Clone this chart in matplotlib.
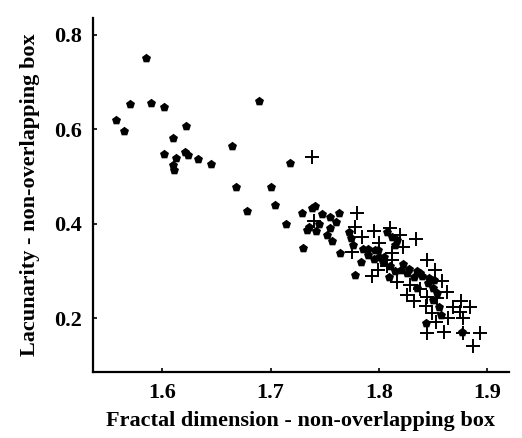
import matplotlib
matplotlib.use("Agg")
import matplotlib.pyplot as plt

# filled markers (first group)
dot_x = [1.585, 1.570, 1.590, 1.602, 1.557, 1.565, 1.622, 1.610, 1.689, 1.602,
         1.613, 1.610, 1.611, 1.621, 1.624, 1.633, 1.645, 1.664, 1.718, 1.668,
         1.700, 1.678, 1.704, 1.714, 1.729, 1.738, 1.741, 1.747, 1.763, 1.735,
         1.734, 1.730, 1.755, 1.752, 1.757, 1.772, 1.774, 1.764, 1.783, 1.778,
         1.785, 1.790, 1.796, 1.799, 1.807, 1.817, 1.815, 1.804, 1.809, 1.820,
         1.826, 1.832, 1.838, 1.846, 1.851, 1.835, 1.854, 1.857, 1.877, 1.843,
         1.790, 1.795, 1.800, 1.805, 1.810, 1.815, 1.822, 1.828, 1.835, 1.840,
         1.845, 1.850, 1.850, 1.855, 1.760, 1.755, 1.745, 1.742, 1.776, 1.812]
dot_y = [0.751, 0.653, 0.657, 0.648, 0.620, 0.597, 0.608, 0.583, 0.661, 0.548,
         0.540, 0.525, 0.514, 0.553, 0.546, 0.537, 0.527, 0.565, 0.528, 0.479,
         0.479, 0.428, 0.440, 0.400, 0.423, 0.433, 0.437, 0.421, 0.424, 0.394,
         0.387, 0.350, 0.391, 0.377, 0.363, 0.384, 0.370, 0.338, 0.320, 0.292,
         0.347, 0.347, 0.345, 0.345, 0.384, 0.366, 0.356, 0.320, 0.288, 0.303,
         0.296, 0.288, 0.296, 0.285, 0.281, 0.264, 0.253, 0.207, 0.172, 0.190,
         0.335, 0.325, 0.330, 0.330, 0.310, 0.300, 0.315, 0.305, 0.300, 0.290,
         0.275, 0.265, 0.240, 0.225, 0.405, 0.415, 0.400, 0.385, 0.355, 0.372]

# plus markers (second group)
plus_x = [1.738, 1.780, 1.740, 1.778, 1.784, 1.795, 1.810, 1.819, 1.834, 1.775,
          1.794, 1.799, 1.807, 1.812, 1.817, 1.829, 1.844, 1.852, 1.832, 1.843,
          1.854, 1.863, 1.876, 1.884, 1.878, 1.849, 1.853, 1.860, 1.844, 1.878,
          1.893, 1.887, 1.844, 1.875, 1.864, 1.812, 1.822, 1.800, 1.838, 1.858,
          1.868, 1.826]
plus_y = [0.541, 0.424, 0.407, 0.394, 0.373, 0.386, 0.391, 0.377, 0.368, 0.341,
          0.289, 0.303, 0.310, 0.324, 0.278, 0.271, 0.324, 0.303, 0.236, 0.227,
          0.243, 0.257, 0.236, 0.224, 0.202, 0.211, 0.193, 0.172, 0.169, 0.169,
          0.170, 0.142, 0.246, 0.214, 0.200, 0.338, 0.352, 0.360, 0.262, 0.280,
          0.225, 0.250]

xticks = [1.6, 1.7, 1.8, 1.9]
yticks = [0.2, 0.4, 0.6, 0.8]

plt.rcParams["font.family"] = ["Liberation Serif", "DejaVu Serif"]
plt.rcParams["font.weight"] = "bold"

fig = plt.figure(figsize=(5.22, 4.38), dpi=100)
ax = fig.add_axes([0.178, 0.151, 0.797, 0.808])

ax.scatter(dot_x, dot_y, marker="p", s=46, c="black", linewidths=0)
ax.scatter(plus_x, plus_y, marker="+", s=95, c="black", linewidths=1.4)

ax.set_xlim(1.536, 1.920)
ax.set_ylim(0.087, 0.836)
ax.set_xticks(xticks)
ax.set_yticks(yticks)
ax.set_xticklabels([str(t) for t in xticks])
ax.set_yticklabels([str(t) for t in yticks])

for s in ["top", "right"]:
    ax.spines[s].set_visible(False)
for s in ["left", "bottom"]:
    ax.spines[s].set_linewidth(1.6)
ax.tick_params(direction="in", length=3, width=1.2, labelsize=16, pad=8)

ax.set_xlabel("Fractal dimension - non-overlapping box", fontsize=16,
              fontweight="bold", labelpad=6)
ax.set_ylabel("Lacunarity - non-overlapping box", fontsize=16,
              fontweight="bold", labelpad=10)

fig.savefig("out.png", dpi=100)
